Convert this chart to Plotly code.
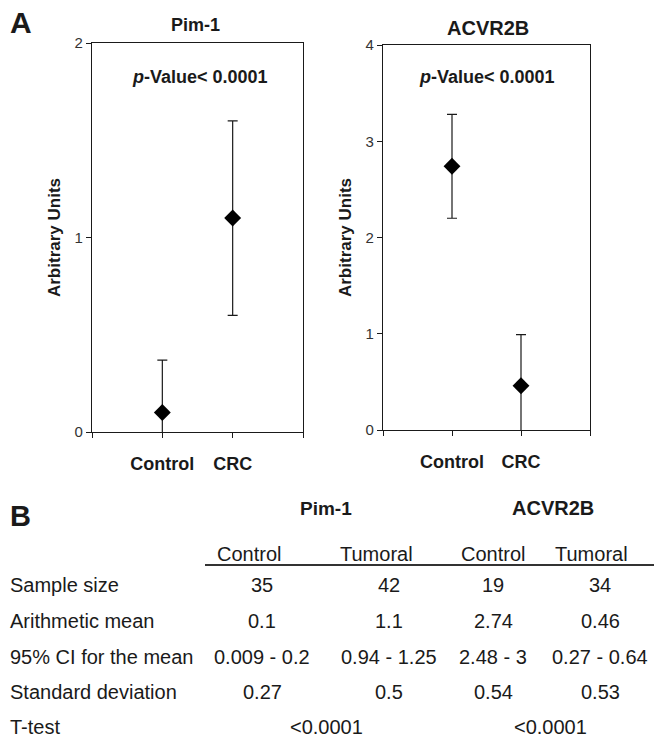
import plotly.graph_objects as go

W, H = 654, 740

# ---------------- data ----------------
groups = ["Control", "CRC"]
pim1_mean = [0.1, 1.1]
pim1_sd = [0.27, 0.5]
acvr2b_mean = [2.74, 0.46]
acvr2b_sd = [0.54, 0.53]
pim1_yticks = [0, 1, 2]
acvr2b_yticks = [0, 1, 2, 3, 4]

table_genes = ["Pim-1", "ACVR2B"]
table_cols = ["Control", "Tumoral", "Control", "Tumoral"]
row_labels = ["Sample size", "Arithmetic mean", "95% CI for the mean",
              "Standard deviation", "T-test"]
sample_size = ["35", "42", "19", "34"]
arith_mean = ["0.1", "1.1", "2.74", "0.46"]
ci_mean = ["0.009 - 0.2", "0.94 - 1.25", "2.48 - 3", "0.27 - 0.64"]
std_dev = ["0.27", "0.5", "0.54", "0.53"]
t_test = ["<0.0001", "<0.0001"]

# ---------------- helpers ----------------
def px(x):
    return x / W

def py(y):
    return 1 - y / H

FONT = "Liberation Sans, Arial, sans-serif"
INK = "#1a1a1a"

fig = go.Figure()

fig.add_trace(go.Scatter(
    x=[1, 2], y=pim1_mean, mode="markers",
    marker=dict(symbol="diamond", size=13, color="black"),
    error_y=dict(type="data", array=pim1_sd, symmetric=True,
                 color=INK, thickness=1.2, width=5),
    xaxis="x", yaxis="y", showlegend=False,
))
fig.add_trace(go.Scatter(
    x=[1, 2], y=acvr2b_mean, mode="markers",
    marker=dict(symbol="diamond", size=13, color="black"),
    error_y=dict(type="data", array=acvr2b_sd, symmetric=True,
                 color=INK, thickness=1.2, width=5),
    xaxis="x2", yaxis="y2", showlegend=False,
))

xcommon = dict(
    range=[0, 3], tickvals=[0, 1, 2, 3], ticktext=[""] + groups + [""],
    ticks="outside", ticklen=5, tickcolor=INK, tickwidth=1.2,
    showline=True, linecolor=INK, linewidth=1.2, mirror=True,
    showgrid=False, zeroline=False, fixedrange=True, automargin=False,
    tickfont=dict(family=FONT, size=18, color=INK, weight="bold"),
    ticklabelstandoff=10,
)
ycommon = dict(
    ticks="outside", ticklen=5, tickcolor=INK, tickwidth=1.2,
    showline=True, linecolor=INK, linewidth=1.2, mirror=True,
    showgrid=False, zeroline=False, fixedrange=True, automargin=False,
    tickfont=dict(family=FONT, size=15, color="#333"),
    title=dict(text="<b>Arbitrary Units</b>", standoff=9,
               font=dict(family=FONT, size=17, color=INK)),
)

fig.update_layout(
    width=W, height=H,
    margin=dict(l=0, r=0, t=0, b=0, autoexpand=False),
    paper_bgcolor="white", plot_bgcolor="white",
    xaxis=dict(domain=[px(92), px(303)], anchor="y", **xcommon),
    yaxis=dict(domain=[py(432), py(43)], anchor="x", range=[0, 2],
               tickvals=pim1_yticks, **ycommon),
    xaxis2=dict(domain=[px(383), px(590)], anchor="y2", **xcommon),
    yaxis2=dict(domain=[py(430), py(45)], anchor="x2", range=[0, 4],
                tickvals=acvr2b_yticks, **ycommon),
)

ann = []

def text(x, y, s, size, bold=False, anchor="center", color=INK):
    ann.append(dict(
        x=px(x), y=py(y), xref="paper", yref="paper", text=s,
        showarrow=False, xanchor=anchor, yanchor="middle",
        font=dict(family=FONT, size=size, color=color,
                  weight="bold" if bold else "normal"),
    ))

# panel labels and titles
text(8, 22, "A", 30, bold=True, anchor="left")
text(195, 25, "Pim-1", 18, bold=True)
text(488, 28, "ACVR2B", 20, bold=True)
text(200, 77, "<i>p</i>-Value< 0.0001", 18, bold=True)
text(487, 77, "<i>p</i>-Value< 0.0001", 18, bold=True)

# table
text(8, 516, "B", 29, bold=True, anchor="left")
gene_x = [326, 553]
gene_size = [19, 20]
for g, gx, gs in zip(table_genes, gene_x, gene_size):
    text(gx, 508, g, gs, bold=True)
head_x = [249, 376, 493, 591]
for c, hx in zip(table_cols, head_x):
    text(hx, 554, c, 20)
row_y = [585, 621, 657, 692, 727]
for lab, ry in zip(row_labels, row_y):
    text(8, ry, lab, 20, anchor="left")
val_x = [262, 389, 493, 600]
for row, ry in zip([sample_size, arith_mean, ci_mean, std_dev], row_y[:4]):
    for v, vx in zip(row, val_x):
        text(vx, ry, v, 20)
for v, tx in zip(t_test, [326, 550]):
    text(tx, row_y[4], v, 20)

fig.update_layout(annotations=ann)
fig.add_shape(type="line", xref="paper", yref="paper",
              x0=px(205), x1=1, y0=py(565), y1=py(565),
              line=dict(color="#333", width=2))

fig.write_html("out.html",
               config={"displayModeBar": False},
               post_script="document.body.style.margin='0';"
                           "document.body.style.padding='0';")
